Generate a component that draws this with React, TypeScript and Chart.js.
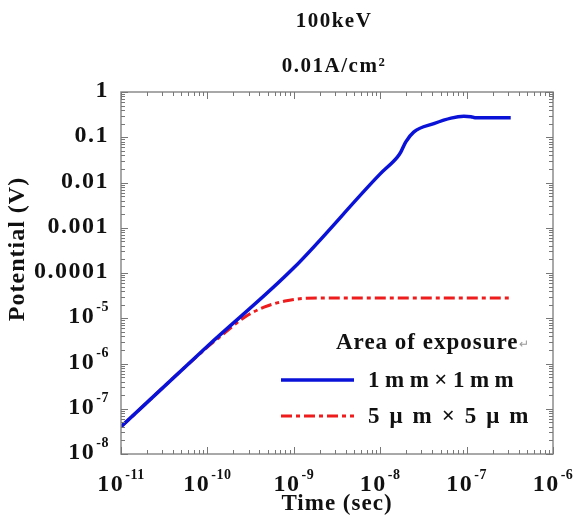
import React, { useEffect, useRef } from "react";
import { Chart, registerables } from "chart.js";

Chart.register(...registerables);

// ---- data ----
const blueTime = [1e-11, 1e-10, 1e-9, 1e-8, 1.57e-8, 1.73e-8, 1.97e-8, 2.44e-8, 4.17e-8, 6.6e-8, 9.3e-8, 1.12e-7, 1.25e-7, 3.24e-7];
const blueV = [4.0e-8, 2.4e-6, 1.3e-4, 0.0155, 0.036, 0.047, 0.078, 0.13, 0.2, 0.265, 0.29, 0.285, 0.27, 0.27];

const redTime = [1e-11, 1e-10, 1.33e-10, 2.72e-10, 4.6e-10, 7.9e-10, 1.35e-9, 3e-9, 3.24e-7];
const redV = [4.0e-8, 2.3e-6, 3.6e-6, 1.07e-5, 1.78e-5, 2.4e-5, 2.75e-5, 2.8e-5, 2.8e-5];

const seriesNames = ["1mm×1mm", "5μm×5μm"];
const legendTitle = "Area of exposure";
const titleLines = ["100keV", "0.01A/cm²"];
const xAxisTitle = "Time (sec)";
const yAxisTitle = "Potential (V)";

const xTickValues = [1e-11, 1e-10, 1e-9, 1e-8, 1e-7, 1e-6];
const xTickLabels = ["10^-11", "10^-10", "10^-9", "10^-8", "10^-7", "10^-6"];
const yTickValues = [1, 0.1, 0.01, 0.001, 0.0001, 1e-5, 1e-6, 1e-7, 1e-8];
const yTickLabels = ["1", "0.1", "0.01", "0.001", "0.0001", "10^-5", "10^-6", "10^-7", "10^-8"];

const SERIF = '"Liberation Serif", "Times New Roman", serif';

function labelWidth(ctx: CanvasRenderingContext2D, label: string) {
  const parts = label.split("^");
  ctx.font = `bold 24px ${SERIF}`;
  (ctx as any).letterSpacing = "1.5px";
  let w = ctx.measureText(parts[0]).width;
  if (parts.length > 1) {
    ctx.font = `bold 14px ${SERIF}`;
    (ctx as any).letterSpacing = "0.5px";
    w += 1 + ctx.measureText(parts[1]).width;
  }
  return w;
}

function drawLabel(ctx: CanvasRenderingContext2D, label: string, left: number, baseline: number) {
  const parts = label.split("^");
  ctx.textAlign = "left";
  ctx.textBaseline = "alphabetic";
  ctx.font = `bold 24px ${SERIF}`;
  (ctx as any).letterSpacing = "1.5px";
  ctx.fillText(parts[0], left, baseline);
  if (parts.length > 1) {
    const w = ctx.measureText(parts[0]).width;
    ctx.font = `bold 14px ${SERIF}`;
    (ctx as any).letterSpacing = "0.5px";
    ctx.fillText(parts[1], left + w + 1, baseline - 12);
  }
}

const framePlugin = {
  id: "framePlugin",
  afterDraw(chart: any) {
    const ctx: CanvasRenderingContext2D = chart.ctx;
    const { left, right, top, bottom } = chart.chartArea;
    const xs = chart.scales.x;
    const ys = chart.scales.y;
    ctx.save();

    // frame
    ctx.strokeStyle = "#8c8c8c";
    ctx.lineWidth = 1.5;
    ctx.strokeRect(left, top, right - left, bottom - top);

    // ticks (inward, on all sides)
    ctx.lineWidth = 1;
    ctx.strokeStyle = "#777";
    ctx.beginPath();
    for (let e = -11; e < -6; e++) {
      for (let m = 1; m <= 9; m++) {
        const v = m * Math.pow(10, e);
        const px = Math.round(xs.getPixelForValue(v)) + 0.5;
        const len = m === 1 ? 7 : 4;
        ctx.moveTo(px, bottom);
        ctx.lineTo(px, bottom - len);
        ctx.moveTo(px, top);
        ctx.lineTo(px, top + len);
      }
    }
    {
      const px = Math.round(xs.getPixelForValue(1e-6)) + 0.5;
      ctx.moveTo(px, bottom);
      ctx.lineTo(px, bottom - 7);
      ctx.moveTo(px, top);
      ctx.lineTo(px, top + 7);
    }
    for (let e = -8; e <= 0; e++) {
      for (let m = 1; m <= 9; m++) {
        if (e === 0 && m > 1) break;
        const v = m * Math.pow(10, e);
        const py = Math.round(ys.getPixelForValue(v)) + 0.5;
        const len = m === 1 ? 7 : 4;
        ctx.moveTo(left, py);
        ctx.lineTo(left + len, py);
        ctx.moveTo(right, py);
        ctx.lineTo(right - len, py);
      }
    }
    ctx.stroke();

    ctx.fillStyle = "#111";
    // y tick labels
    yTickValues.forEach((v, i) => {
      const py = ys.getPixelForValue(v);
      const w = labelWidth(ctx, yTickLabels[i]);
      drawLabel(ctx, yTickLabels[i], left - 12 - w, py + 5);
    });
    // x tick labels
    xTickValues.forEach((v, i) => {
      const px = xs.getPixelForValue(v);
      const w = labelWidth(ctx, xTickLabels[i]);
      drawLabel(ctx, xTickLabels[i], px - w / 2, bottom + 37);
    });

    // axis titles
    ctx.font = `bold 23px ${SERIF}`;
    (ctx as any).letterSpacing = "1px";
    ctx.textAlign = "center";
    ctx.textBaseline = "middle";
    ctx.fillText(xAxisTitle, (left + right) / 2, 504);
    ctx.save();
    ctx.translate(18, 249);
    ctx.rotate(-Math.PI / 2);
    ctx.font = `bold 24px ${SERIF}`;
    ctx.fillText(yAxisTitle, 0, 0);
    ctx.restore();

    // titles
    ctx.font = `bold 21px ${SERIF}`;
    (ctx as any).letterSpacing = "1.5px";
    ctx.fillText(titleLines[0], 334, 22);
    ctx.fillText(titleLines[1], 334, 67);

    // legend
    ctx.textAlign = "left";
    ctx.font = `bold 23px ${SERIF}`;
    (ctx as any).letterSpacing = "1px";
    ctx.fillText(legendTitle, 336, 343);
    const tw = ctx.measureText(legendTitle).width;
    ctx.font = `12px ${SERIF}`;
    (ctx as any).letterSpacing = "0px";
    ctx.fillStyle = "#999";
    ctx.fillText("↵", 336 + tw, 345);
    ctx.fillStyle = "#111";

    const ds = chart.data.datasets;
    const legendY = [380, 416];
    const spacing = ["5.5px", "10px"];
    ds.forEach((d: any, i: number) => {
      ctx.save();
      ctx.strokeStyle = d.borderColor;
      ctx.lineWidth = d.borderWidth;
      ctx.setLineDash(d.borderDash || []);
      ctx.beginPath();
      ctx.moveTo(281, legendY[i]);
      ctx.lineTo(354, legendY[i]);
      ctx.stroke();
      ctx.restore();
      ctx.font = `bold 23px ${SERIF}`;
      (ctx as any).letterSpacing = spacing[i];
      ctx.textBaseline = "middle";
      ctx.fillText(d.label, 368, legendY[i] + 1);
    });
    (ctx as any).letterSpacing = "0px";
    ctx.restore();
  },
};

export default function App() {
  const ref = useRef<HTMLCanvasElement>(null);
  useEffect(() => {
    const chart = new Chart(ref.current as HTMLCanvasElement, {
      type: "line",
      data: {
        datasets: [
          {
            label: seriesNames[0],
            data: blueTime.map((t, i) => ({ x: t, y: blueV[i] })),
            borderColor: "#0a12d8",
            borderWidth: 3.5,
            pointRadius: 0,
            cubicInterpolationMode: "monotone",
          },
          {
            label: seriesNames[1],
            data: redTime.map((t, i) => ({ x: t, y: redV[i] })),
            borderColor: "#ee1c1c",
            borderWidth: 3,
            borderDash: [11, 4, 4, 4],
            pointRadius: 0,
            cubicInterpolationMode: "monotone",
          },
        ],
      },
      options: {
        animation: false,
        responsive: false,
        maintainAspectRatio: false,
        layout: { padding: { left: 121, right: 21, top: 92, bottom: 61 } },
        plugins: {
          legend: { display: false },
          title: { display: false },
          tooltip: { enabled: false },
        },
        scales: {
          x: {
            type: "logarithmic",
            min: 1e-11,
            max: 1e-6,
            ticks: { display: false },
            grid: { display: false, drawTicks: false },
            border: { display: false },
          },
          y: {
            type: "logarithmic",
            min: 1e-8,
            max: 1,
            ticks: { display: false },
            grid: { display: false, drawTicks: false },
            border: { display: false },
          },
        },
      },
      plugins: [framePlugin],
    } as any);
    return () => chart.destroy();
  }, []);
  return (
    <div style={{ position: "fixed", left: 0, top: 0, width: 574, height: 515, background: "#fff" }}>
      <canvas ref={ref} width={574} height={515} style={{ width: 574, height: 515, display: "block" }} />
    </div>
  );
}
